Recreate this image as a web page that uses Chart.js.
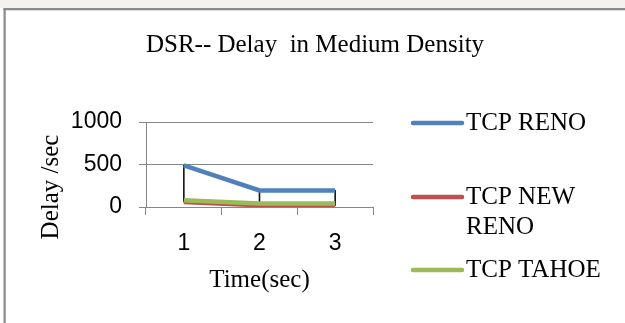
<!DOCTYPE html>
<html>
<head>
<meta charset="utf-8">
<script src="https://cdn.jsdelivr.net/npm/chart.js@4.4.1/dist/chart.umd.min.js"></script>
<style>
  html, body { margin: 0; padding: 0; background: #fff; }
  #wrap { width: 625px; height: 323px; }
</style>
</head>
<body>
<div id="wrap"><canvas id="chart_dsrDelayMedium"></canvas></div>
<script>
// values
var timeLabels = ['1', '2', '3'];
var tcpReno = [490, 195, 195];
var tcpNewReno = [60, 20, 20];
var tcpTahoe = [80, 40, 40];
var seriesNames = ['TCP RENO', 'TCP NEW RENO', 'TCP TAHOE'];
var seriesColors = ['#4f81bd', '#c0504d', '#9bbb59'];
var delayTicks = [0, 500, 1000];
var chartTitle = 'DSR-- Delay  in Medium Density';
var yTitle = 'Delay /sec';
var xTitle = 'Time(sec)';

var serifFont = '"Liberation Serif", "Times New Roman", serif';
var sansFont = '"Liberation Sans", Arial, sans-serif';
var axisGrey = '#868686';

// high-low lines: from the lowest to the highest series value at each category
var highLow = timeLabels.map(function (_, i) {
    var vals = [tcpReno[i], tcpNewReno[i], tcpTahoe[i]];
    return [Math.min.apply(null, vals), Math.max.apply(null, vals)];
});

var seriesData = [tcpReno, tcpNewReno, tcpTahoe];
var lineSets = seriesData.map(function (values, i) {
    return {
        type: 'line',
        label: seriesNames[i],
        data: values,
        borderColor: seriesColors[i],
        backgroundColor: seriesColors[i],
        borderWidth: 4.5,
        pointRadius: 0,
        tension: 0,
        order: 2 - i
    };
});

var chart_dsrDelayMedium = new Chart(document.getElementById('chart_dsrDelayMedium'), {
    type: 'line',
    data: {
        labels: timeLabels,
        datasets: lineSets.concat([{
            type: 'bar',
            label: 'high-low',
            data: highLow,
            backgroundColor: '#1a1a1a',
            borderWidth: 0,
            barThickness: 1,
            order: 5
        }])
    },
    options: {
        animation: false,
        responsive: true,
        maintainAspectRatio: false,
        layout: {
            padding: { top: 122, left: 5, right: 252, bottom: 0 }
        },
        plugins: {
            legend: { display: false },
            title: { display: false },
            tooltip: { enabled: false }
        },
        scales: {
            x: {
                type: 'category',
                offset: true,
                grid: {
                    offset: true,
                    drawOnChartArea: false,
                    drawTicks: true,
                    tickLength: 8,
                    color: axisGrey
                },
                border: { display: true, color: axisGrey, width: 1 },
                ticks: {
                    color: '#000',
                    padding: 15,
                    font: { family: sansFont, size: 23 }
                },
                title: {
                    display: true,
                    text: xTitle,
                    color: '#000',
                    font: { family: serifFont, size: 25 },
                    padding: { top: 0, bottom: 28 }
                },
                afterFit: function (scale) { scale.height = 116; }
            },
            y: {
                type: 'linear',
                min: 0,
                max: 1000,
                grid: {
                    color: axisGrey,
                    drawTicks: true,
                    tickLength: 7
                },
                border: { display: true, color: axisGrey, width: 1 },
                ticks: {
                    color: '#000',
                    padding: 17,
                    font: { family: sansFont, size: 23 },
                    callback: function (value) { return String(value); }
                },
                afterBuildTicks: function (scale) {
                    scale.ticks = delayTicks.map(function (v) { return { value: v }; });
                },
                afterFit: function (scale) { scale.width = 141; }
            }
        }
    },
    plugins: [{
        id: 'excelFrame',
        beforeDraw: function (chart) {
            var ctx = chart.ctx, w = chart.width, h = chart.height;
            ctx.save();
            ctx.fillStyle = '#ffffff';
            ctx.fillRect(0, 0, w, h);
            ctx.fillStyle = '#f3f2ef';
            ctx.fillRect(0, 0, w, 8);
            ctx.fillStyle = '#8a8a8a';
            ctx.fillRect(3.5, 8, w, 2.3);
            ctx.fillRect(3.5, 8, 2.2, h);
            ctx.restore();
        },
        afterDraw: function (chart) {
            var ctx = chart.ctx;
            ctx.save();
            ctx.fillStyle = '#000';
            ctx.font = '25px ' + serifFont;
            ctx.textBaseline = 'middle';

            // chart title
            ctx.textAlign = 'center';
            ctx.fillText(chartTitle, 315, 45);

            // value axis title, rotated
            ctx.save();
            ctx.translate(51, 187);
            ctx.rotate(-Math.PI / 2);
            ctx.fillText(yTitle, 0, 0);
            ctx.restore();

            // legend on the right, long names wrap
            ctx.textAlign = 'left';
            var itemY = [123, 197, 270];
            var lineX0 = 413, lineX1 = 462, textX = 466;
            var maxW = chart.width - textX - 2;
            chart.data.datasets.forEach(function (ds, i) {
                if (ds.type !== 'line') return;
                var y = itemY[i];
                ctx.strokeStyle = ds.borderColor;
                ctx.lineWidth = 4.5;
                ctx.lineCap = 'round';
                ctx.beginPath();
                ctx.moveTo(lineX0, y);
                ctx.lineTo(lineX1, y);
                ctx.stroke();

                var words = ds.label.split(' ');
                var lines = [], cur = '';
                words.forEach(function (wd) {
                    var test = cur ? cur + ' ' + wd : wd;
                    if (cur && ctx.measureText(test).width > maxW) {
                        lines.push(cur);
                        cur = wd;
                    } else {
                        cur = test;
                    }
                });
                lines.push(cur);
                lines.forEach(function (ln, k) {
                    ctx.fillText(ln, textX, y + k * 30);
                });
            });
            ctx.restore();
        }
    }]
});
</script>
</body>
</html>
